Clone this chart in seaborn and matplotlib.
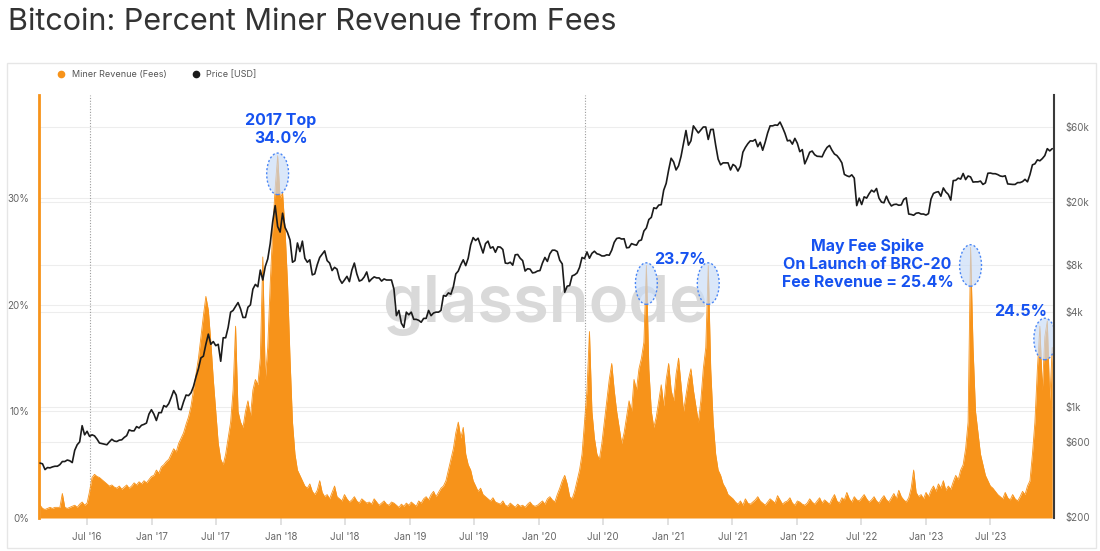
import numpy as np
import pandas as pd
import matplotlib
matplotlib.use("Agg")
import matplotlib.pyplot as plt
import matplotlib.dates as mdates
import matplotlib.ticker as mticker
from matplotlib.patches import Ellipse, Rectangle
from matplotlib.lines import Line2D
from matplotlib.transforms import blended_transform_factory
import seaborn as sns

# weekly samples, first one on Sat 2016-02-20
first_week = "2016-02-20"

# miner revenue from fees [% of total revenue]
fee_2016 = [1.2, 0.9, 0.8, 0.9, 1.0, 0.9, 1.0, 1.0, 1.0, 2.3, 1.0, 0.9, 1.0, 1.1, 1.2, 1.0, 1.3, 1.5, 1.2, 1.4,
            2.5, 3.8, 4.1, 3.9, 3.8, 3.6, 3.4, 3.2, 3.0, 3.1, 2.9, 2.8, 3.0, 2.7, 2.9, 3.1, 2.8, 3.0, 3.3, 3.1,
            3.4, 3.2, 3.5, 3.3, 3.6, 3.9]
fee_2017 = [4.0, 4.5, 4.2, 4.8, 5.0, 5.3, 5.5, 6.0, 6.5, 6.2, 7.0, 7.5, 8.0, 8.8, 9.5,
            10.5, 12.0, 13.5, 15.0, 17.0, 19.0, 20.8, 19.5, 16.5, 13.0, 10.0, 7.0, 5.5, 5.0, 6.0,
            7.5, 9.0, 12.0, 18.0, 10.0, 9.0, 8.5, 10.0, 11.0, 9.5, 12.0, 13.0, 12.5, 15.0,
            24.5, 13.0, 16.0, 22.0, 27.0, 31.0, 34.0, 30.0]
fee_2018 = [30.5, 27.0, 22.0, 15.0, 9.0, 6.0, 4.5,
            4.0, 3.5, 3.0, 2.8, 3.2, 2.5, 2.2, 2.6, 3.5, 2.4, 2.0, 2.2, 1.8, 2.4, 3.0, 2.0, 1.8, 1.6, 2.2, 1.8,
            1.5, 1.7, 2.0, 1.6, 1.4, 1.8,
            1.6, 1.4, 1.5, 1.3, 1.8, 1.5, 1.2, 1.4, 1.6, 1.3, 1.2, 1.5, 1.4, 1.2, 1.0, 1.3, 1.1, 1.4, 1.2]
fee_2019 = [1.5, 1.3, 1.1, 1.6, 1.4,
            1.8, 2.0, 1.7, 2.2, 2.5, 2.0, 2.4, 2.8, 3.0, 3.5,
            4.5, 5.5, 6.5, 8.0, 9.0, 7.5, 8.5, 6.0, 5.0, 4.5, 3.5,
            3.0, 2.5, 2.8, 2.2, 2.0, 1.8, 1.6, 1.9, 1.5, 1.4, 1.3, 1.6, 1.2, 1.1, 1.4, 1.2, 1.0, 1.3, 1.1, 1.2,
            1.0, 1.3, 1.5, 1.2, 1.1, 1.2]
fee_2020 = [1.4, 1.6, 1.3, 1.8, 2.0, 1.7, 1.5, 2.2, 2.8, 3.5, 4.0, 3.2, 2.0, 1.8,
            2.5, 3.5, 4.5, 6.0, 9.0, 12.0,
            17.5, 10.0, 7.5, 6.0, 5.5, 7.0, 9.0, 11.0, 13.0, 14.5, 12.0, 10.0, 8.5, 7.0,
            8.0, 9.5, 11.0, 10.0, 13.0, 12.0, 14.0, 15.0, 16.5, 23.7,
            14.0, 10.0, 8.5, 9.5, 11.0, 12.5, 10.5, 13.0]
fee_2021 = [14.5, 12.0, 11.0, 13.5, 15.0, 12.5, 10.0, 11.5, 13.0,
            14.0, 12.0, 10.5, 9.0, 11.0, 14.0, 16.0, 23.7,
            14.0, 9.0, 6.0, 4.5, 4.0, 3.2, 2.8, 2.2, 2.0, 1.8,
            1.5, 1.3, 1.6, 1.2, 1.8, 1.4, 1.3, 1.5, 1.7, 2.0, 1.6, 1.4, 1.2, 1.5, 1.8, 1.6, 1.4, 2.1, 1.7, 1.3,
            1.5, 1.6, 1.9, 1.4, 1.2]
fee_2022 = [1.6, 1.5, 1.3, 1.2, 1.4, 1.8, 1.5, 1.3, 1.6, 1.9, 1.4, 1.7, 1.5, 1.3, 1.8, 2.2, 1.6, 1.4, 1.9,
            1.7, 2.4, 1.8, 1.5, 2.0, 1.7,
            1.6, 1.9, 2.2, 1.8, 1.5, 1.7, 2.0, 1.6, 1.4, 1.8, 2.1, 1.7, 1.5, 1.9, 2.3, 1.8, 2.6, 2.0, 1.7, 1.5,
            1.9, 2.8, 4.5, 2.4, 2.0, 2.2, 1.8, 2.4]
fee_2023 = [2.0, 2.6,
            3.0, 2.5, 3.2, 2.8, 3.5, 2.6, 3.0, 2.7, 3.4, 4.0, 3.6, 4.5, 5.0, 6.5, 9.0, 25.4,
            16.0, 10.0, 8.0, 6.0, 5.0, 4.0, 3.5, 3.0, 2.8,
            2.5, 2.2, 2.0, 1.8, 2.4, 1.9, 1.7, 2.2, 1.8, 1.6, 2.0, 2.5, 2.2, 3.0,
            3.5, 6.0, 9.0, 14.0, 18.0, 12.0, 17.0, 18.5, 11.0, 16.0]

# BTC price [USD], same weekly grid
price_2016 = [440, 435, 400, 412, 410, 416, 420, 420, 430, 450, 450, 460, 455, 443, 530, 575, 600, 760, 665,
              700, 650, 665, 655, 625, 590, 585, 580, 575, 600, 623, 607, 603, 615, 618, 640, 657, 715, 705,
              705, 750, 735, 765, 775, 790, 900, 960]
price_2017 = [900, 820, 920, 920, 1020, 1000, 1050, 1150, 1270, 1190, 970, 960, 1080, 1190, 1180, 1230, 1350,
              1550, 1750, 2050, 2100, 2500, 2900, 2500, 2600, 2450, 2500, 1950, 2750, 2750, 3200, 4000, 4100,
              4350, 4600, 4200, 3700, 3700, 4300, 4450, 5600, 6000, 5800, 7400, 6400, 7800, 8700, 10900,
              15000, 19000, 14000, 12900]
price_2018 = [17000, 13800, 12800, 11500, 8300, 8500, 11000, 9700, 11300, 8800, 8300, 8600, 6900, 7000, 8000,
              8900, 9350, 9800, 8500, 8200, 7350, 7700, 7500, 6500, 6100, 6400, 6750, 6250, 7400, 8200, 7000,
              6300, 6400, 6700, 7200, 6250, 6500, 6700, 6600, 6600, 6300, 6500, 6400, 6400, 6400, 5600, 3800,
              4100, 3400, 3200, 4000, 3850]
price_2019 = [4000, 3600, 3600, 3550, 3450, 3650, 3650, 4100, 3800, 3950, 4000, 4000, 4100, 5100, 5050, 5300,
              5200, 5800, 7000, 7300, 8000, 8600, 7900, 8800, 10700, 11900, 11400, 11800, 10600, 9500, 10900,
              11300, 10200, 10400, 9600, 10400, 10350, 10000, 8200, 8150, 8300, 7950, 9250, 9300, 8800, 8500,
              7300, 7550, 7500, 7100, 7150, 7300]
price_2020 = [7350, 8200, 8900, 8400, 9400, 9900, 9900, 9700, 8550, 8100, 5350, 5850, 5900, 6800, 6900, 7100,
              7700, 8900, 8750, 9650, 8800, 9450, 9750, 9400, 9300, 9100, 9100, 9250, 9200, 9900, 11100, 11750,
              11850, 11650, 11700, 10250, 10300, 10900, 10750, 10650, 11350, 11500, 13100, 13700, 15500, 16000,
              18400, 18200, 19150, 19250, 23800, 26300]
price_2021 = [32000, 38000, 36000, 32000, 34000, 39000, 47000, 57000, 46000, 49000, 61000, 58000, 55000, 57500,
              60000, 60000, 50000, 57800, 58000, 46000, 37500, 34500, 35500, 35500, 35500, 32000, 34700, 33800,
              31500, 33800, 41500, 44500, 47000, 49000, 48800, 50000, 45000, 48000, 42700, 48000, 55000, 61000,
              61000, 61800, 61500, 64500, 59700, 54700, 49000, 49400, 46700, 50800]
price_2022 = [47300, 41800, 43100, 35000, 37900, 41500, 42200, 40000, 39100, 39000, 38800, 42000, 44500, 45800,
              42700, 40400, 39500, 37700, 35500, 30000, 29400, 29000, 29800, 28400, 19000, 21200, 19300, 21600,
              21200, 22600, 23800, 23200, 24400, 21200, 20000, 19800, 21800, 20000, 18900, 19300, 19400, 19100,
              19200, 20800, 21300, 16800, 16700, 16500, 17000, 17100, 16800, 16800, 16550]
price_2023 = [16900, 20900, 22700, 23100, 23300, 21800, 24600, 23200, 22400, 20600, 27400, 27500, 28400, 28000,
              30400, 27800, 29300, 28900, 26800, 26900, 26900, 27200, 25900, 26500, 30500, 30600, 30300, 30300,
              29900, 29300, 29100, 29400, 26100, 26000, 25900, 25900, 26600, 26600, 27000, 27900, 26900, 29900,
              34500, 35000, 37100, 36600, 37800, 39500, 43700, 42300, 43700]

halvings = ["2016-07-09", "2020-05-11"]
spike_dates = ["2017-12-23", "2020-10-31", "2021-04-24", "2023-05-06", "2023-12-02"]
callouts = [
    ("2017 Top\n34.0%", "2017-12-23", (3, 26)),
    ("23.7%", "2021-04-24", (-28, 6)),
    ("May Fee Spike\nOn Launch of BRC-20\nFee Revenue = 25.4%", "2023-05-06", (-103, -17)),
    ("24.5%", "2023-12-09", (-27, 9)),
]
pct_ticks = [0, 10, 20, 30]
price_ticks = [200, 600, 1000, 4000, 8000, 20000, 60000]
price_labels = ["$200", "$600", "$1k", "$4k", "$8k", "$20k", "$60k"]

ORANGE = "#f7931a"
BLUE = "#1652f0"

fee = np.concatenate([fee_2016, fee_2017, fee_2018, fee_2019, fee_2020, fee_2021, fee_2022, fee_2023])
price = np.concatenate([price_2016, price_2017, price_2018, price_2019, price_2020, price_2021,
                        price_2022, price_2023])
df_fee = pd.DataFrame({"date": pd.date_range(first_week, periods=len(fee), freq="7D"), "fee": fee})
df_price = pd.DataFrame({"date": pd.date_range(first_week, periods=len(price), freq="7D"), "price": price})

sns.set_theme(style="white")
plt.rcParams["font.family"] = ["Inter", "DejaVu Sans"]

fig = plt.figure(figsize=(11, 5.51), dpi=100)
ax = fig.add_axes([39 / 1100, 33 / 551, 1015 / 1100, 423 / 551])
ax2 = ax.twinx()

# fee area
ax.fill_between(df_fee["date"], df_fee["fee"], 0, color=ORANGE, linewidth=0, zorder=2)
sns.lineplot(data=df_fee, x="date", y="fee", ax=ax, color=ORANGE, linewidth=0.6, zorder=2)

# price line (log)
ax2.set_yscale("log")
sns.lineplot(data=df_price, x="date", y="price", ax=ax2, color="#1b1b1b", linewidth=1.2)

# grid: % levels + price levels, both under the data
ax.set_yticks(pct_ticks)
ax.grid(axis="y", color="#ededed", linewidth=0.8)
ax.set_axisbelow(True)
trans = blended_transform_factory(ax.transAxes, ax2.transData)
for p in price_ticks:
    ax.add_line(Line2D([0, 1], [p, p], transform=trans, color="#ededed", linewidth=0.8, zorder=0.6))

for h in halvings:
    ax.axvline(pd.Timestamp(h), color="#9c9c9c", linewidth=0.8, linestyle=(0, (1, 1.5)), zorder=1)

ax.text(0.4985, 0.503, "glassnode", transform=ax.transAxes, ha="center", va="center",
        fontsize=47, fontweight="semibold", color="#d9d9d9", zorder=1.5)

# circled spikes
for d in spike_dates:
    t = pd.Timestamp(d)
    win = df_fee[(df_fee["date"] >= t - pd.Timedelta(days=21)) & (df_fee["date"] <= t + pd.Timedelta(days=21))]
    peak = win["fee"].max()
    ax.add_patch(Ellipse((mdates.date2num(t), peak - 1.7), width=62, height=3.9,
                         facecolor=(0.78, 0.86, 0.97, 0.65), edgecolor="#4a86f5",
                         linestyle=(0, (1.5, 1.5)), linewidth=1, zorder=4))

for text, d, off in callouts:
    t = pd.Timestamp(d)
    i = (df_fee["date"] - t).abs().idxmin()
    ax2.annotate(text, xy=(mdates.date2num(t), df_fee.loc[i, "fee"]), xycoords=ax.transData,
                 xytext=off, textcoords="offset pixels", ha="center", va="center",
                 fontsize=11.5, fontweight="bold", color=BLUE, linespacing=1.25, zorder=6)

ax.set_xlim(pd.Timestamp("2016-02-17"), pd.Timestamp("2023-12-28"))
ax.set_ylim(0, 39.7)
ax2.set_ylim(197, 95800)

ax.set_xlabel("")
ax.set_ylabel("")
ax2.set_ylabel("")

ax.yaxis.set_major_formatter(mticker.FuncFormatter(lambda v, _: f"{v:.0f}%"))
ax.tick_params(axis="y", length=0, labelsize=7, labelcolor="#666666", pad=7)
ax2.set_yticks(price_ticks)
ax2.set_yticklabels(price_labels)
ax2.yaxis.set_minor_locator(mticker.NullLocator())
ax2.tick_params(axis="y", length=0, labelsize=7, labelcolor="#666666", pad=8)
ax.xaxis.set_major_locator(mdates.MonthLocator(bymonth=[1, 7]))
ax.xaxis.set_major_formatter(mdates.DateFormatter("%b '%y"))
ax.tick_params(axis="x", bottom=True, length=5, color="#dddddd", labelsize=7, labelcolor="#666666", pad=5)

for s in ax.spines.values():
    s.set_visible(False)
ax.spines["left"].set_visible(True)
ax.spines["left"].set_color(ORANGE)
ax.spines["left"].set_linewidth(2)
for s in ax2.spines.values():
    s.set_visible(False)
ax2.spines["right"].set_visible(True)
ax2.spines["right"].set_color("#3a3a3a")
ax2.spines["right"].set_linewidth(1.5)

# title, legend, chart frame
fig.text(8 / 1100, 1 - 22 / 551, "Bitcoin: Percent Miner Revenue from Fees", fontsize=22,
         color="#333333", ha="left", va="center")
handles = [Line2D([], [], marker="o", linestyle="", markerfacecolor=ORANGE, markeredgecolor=ORANGE,
                  markersize=4.5, label="Miner Revenue (Fees)"),
           Line2D([], [], marker="o", linestyle="", markerfacecolor="#1b1b1b", markeredgecolor="#1b1b1b",
                  markersize=4.5, label="Price [USD]")]
fig.legend(handles=handles, loc="center left", bbox_to_anchor=(44 / 1100, 1 - 75 / 551), ncol=2,
           frameon=False, fontsize=6.5, handletextpad=0.2, columnspacing=2.2, labelcolor="#555555")
fig.patches.append(Rectangle((7 / 1100, 3 / 551), 1089 / 1100, 485 / 551, transform=fig.transFigure,
                             fill=False, edgecolor="#e6e6e6", linewidth=1))

fig.savefig("out.png", dpi=100)
